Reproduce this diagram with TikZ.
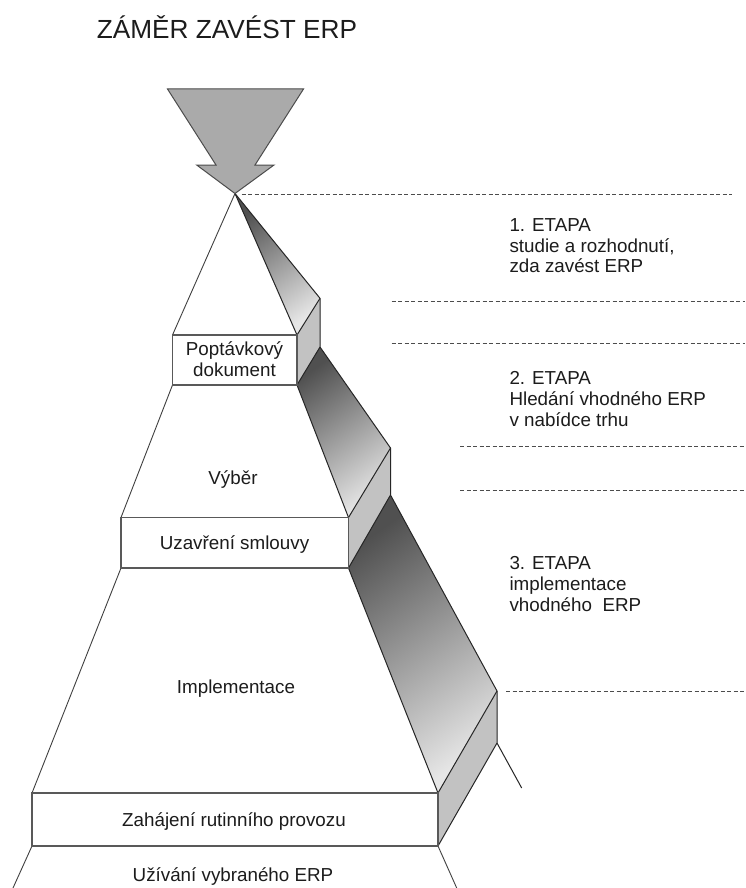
\documentclass[tikz,border=0pt]{standalone}
\usepackage{fontspec}
\setmainfont{Liberation Sans}
\definecolor{bandDark}{RGB}{80,80,80}
\definecolor{bandLight}{RGB}{230,230,230}
\definecolor{faceGray}{RGB}{194,194,194}
\definecolor{arrowGray}{RGB}{170,170,170}
\definecolor{inkGray}{RGB}{28,28,28}
\begin{document}
\begin{tikzpicture}[x=1pt,y=-1pt,
  txt/.style={font=\fontsize{18.8}{20.8}\selectfont, text=inkGray, inner sep=0pt},
  boxline/.style={draw=black!65, line width=1.1pt},
  sideline/.style={draw=black!75, line width=0.9pt},
  bandline/.style={draw=black!85, line width=1pt, line join=round},
  band/.style={top color=bandDark, bottom color=bandLight, shading angle=35},
  face/.style={fill=faceGray},
  arrowshape/.style={draw=black!70, line width=1pt, fill=arrowGray, line join=miter},
  guide/.style={draw=black!70, line width=0.9pt, dash pattern=on 4pt off 2.5pt},
]
\useasboundingbox (0,0) rectangle (745,888);
\fill[white] (0,0) rectangle (745,888);

% key points
\coordinate (A) at (235,193.5);
\coordinate (P1) at (172.5,335);
\coordinate (P2) at (297,335);
\coordinate (P3) at (297,385);
\coordinate (P4) at (172.5,385);
\coordinate (F1a) at (320,298.3);
\coordinate (F1b) at (320,347);
\coordinate (U1) at (121,517.5);
\coordinate (U2) at (348.5,517.5);
\coordinate (U3) at (348.5,568);
\coordinate (U4) at (121,568);
\coordinate (F2a) at (390.5,448);
\coordinate (F2b) at (390.5,495);
\coordinate (Z1) at (32,793);
\coordinate (Z2) at (438,793);
\coordinate (Z3) at (438,846);
\coordinate (Z4) at (32,846);
\coordinate (F3a) at (497,691);
\coordinate (F3b) at (497,743);
\coordinate (B1) at (521.7,788);
\coordinate (BL) at (13,888);
\coordinate (BR) at (456.7,888);

% shaded bands and side faces
\shade[band] (A) -- (F1a) -- (P2) -- cycle;
\fill[face] (P2) -- (F1a) -- (F1b) -- (P3) -- cycle;
\shade[band] (P3) -- (F1b) -- (F2a) -- (U2) -- cycle;
\fill[face] (U2) -- (F2a) -- (F2b) -- (U3) -- cycle;
\shade[band] (U3) -- (F2b) -- (F3a) -- (Z2) -- cycle;
\fill[face] (Z2) -- (F3a) -- (F3b) -- (Z3) -- cycle;

% outlines of the bands
\draw[bandline] (A) -- (F1a) -- (F1b) -- (F2a) -- (F2b) -- (F3a) -- (F3b) -- (B1);
\draw[bandline] (A) -- (P2);
\draw[bandline] (P3) -- (U2);
\draw[bandline] (U3) -- (Z2);
\draw[bandline] (P2) -- (F1a);
\draw[bandline] (P3) -- (F1b);
\draw[bandline] (U2) -- (F2a);
\draw[bandline] (U3) -- (F2b);
\draw[bandline] (Z2) -- (F3a);
\draw[bandline] (Z3) -- (F3b);

% left sides of the pyramid
\draw[sideline] (A) -- (P1);
\draw[sideline] (P4) -- (U1);
\draw[sideline] (U4) -- (Z1);
\draw[sideline] (Z4) -- (BL);
\draw[sideline] (Z3) -- (BR);

% boxes
\draw[boxline] (P1) rectangle (P3);
\draw[boxline] (U1) rectangle (U3);
\draw[boxline] (Z1) rectangle (Z3);

% arrow
\draw[arrowshape] (167.5,89) -- (303.5,89) -- (255,165) -- (274,165) -- (A) -- (196.7,165) -- (216,165) -- cycle;

% dashed guide lines
\draw[guide] (241.7,194.3) -- (731.7,194.3);
\draw[guide] (391.7,301.7) -- (745,301.7);
\draw[guide] (391.7,343.3) -- (745,343.3);
\draw[guide] (460,446.7) -- (745,446.7);
\draw[guide] (460,490.5) -- (745,490.5);
\draw[guide] (506,691.5) -- (745,691.5);

% texts
\node[txt, anchor=base west, font=\fontsize{26.2}{30}\selectfont] (title) at (96.7,38.3) {ZÁMĚR ZAVÉST ERP};
\node[txt, align=center] (pop) at (234.5,359) {Poptávkový\\dokument};
\node[txt, anchor=base] (vyber) at (233,484) {Výběr};
\node[txt, anchor=base] (uzav) at (234.5,549.5) {Uzavření smlouvy};
\node[txt, anchor=base] (impl) at (236,693.5) {Implementace};
\node[txt, anchor=base] (zah) at (234,826.5) {Zahájení rutinního provozu};
\node[txt, anchor=base] (uziv) at (233,881.5) {Užívání vybraného ERP};

\node[txt, align=left, anchor=north west] (et1) at (509.3,218.2) {1. ETAPA\\studie a rozhodnutí,\\zda zavést ERP};
\node[txt, align=left, anchor=north west] (et2) at (509.3,371.5) {2. ETAPA\\Hledání vhodného ERP\\v nabídce trhu};
\node[txt, align=left, anchor=north west] (et3) at (509.3,556.5) {3. ETAPA\\implementace\\vhodného\ \ ERP};
\end{tikzpicture}
\end{document}
